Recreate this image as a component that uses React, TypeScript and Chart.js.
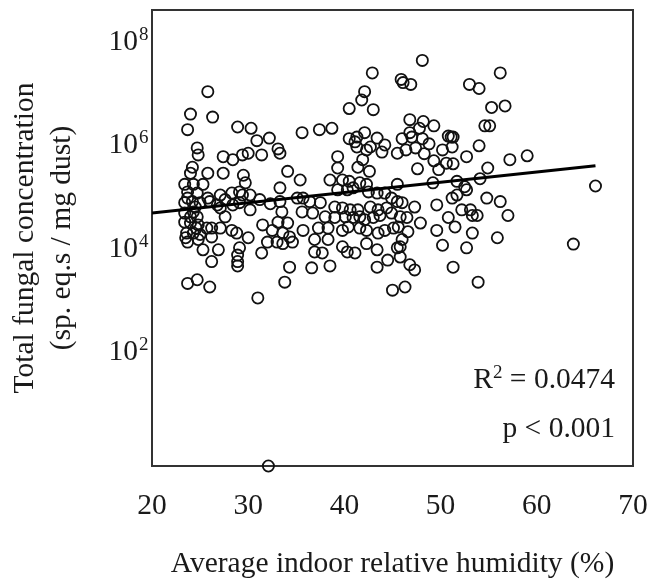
import React, { useEffect, useRef } from 'react';
import { Chart, registerables } from 'chart.js';

Chart.register(...registerables);

// Average indoor relative humidity (%) for each dwelling
const humidity: number[] = [
  48.1, 42.9, 56.2, 45.9, 46.1, 46.9, 53.0, 54.0, 25.8, 24.0,
  26.3, 23.7, 28.9, 30.3, 30.9, 32.2, 24.7, 24.8, 27.4, 28.4,
  29.4, 30.0, 31.4, 24.2, 24.0, 25.8, 27.4, 29.5, 42.1, 41.8,
  40.5, 43.0, 35.6, 37.4, 38.7, 40.5, 41.3, 41.1, 42.1, 43.4,
  44.2, 33.1, 33.3, 41.3, 42.3, 42.7, 43.9, 39.3, 41.9, 41.4,
  39.3, 34.1, 42.6, 55.3, 56.7, 54.6, 55.1, 46.8, 48.2, 49.3,
  46.8, 47.8, 46.0, 47.0, 48.1, 48.8, 50.8, 51.1, 51.3, 45.5,
  46.4, 47.4, 48.3, 50.2, 51.2, 54.0, 52.7, 49.3, 50.6, 51.3,
  47.6, 49.8, 54.9, 57.2, 59.0, 51.7, 54.1, 52.5, 49.2, 45.5,
  35.4, 38.5, 39.8, 40.5, 41.6, 42.3, 33.3, 39.3, 40.3, 40.9,
  42.5, 43.4, 44.2, 35.1, 35.7, 36.4, 37.5, 33.3, 32.3, 39.0,
  39.8, 40.6, 41.4, 42.7, 43.5, 44.4, 33.5, 35.6, 36.7, 38.0,
  39.0, 40.1, 40.9, 41.6, 42.1, 43.0, 43.7, 33.1, 34.1, 37.3,
  38.3, 39.8, 40.4, 41.6, 42.3, 43.5, 44.2, 35.7, 33.6, 34.3,
  32.5, 36.9, 38.3, 33.0, 33.6, 34.6, 39.8, 41.1, 40.3, 42.3,
  43.4, 44.5, 36.9, 37.7, 34.3, 36.6, 38.5, 43.4, 33.8, 45.0,
  44.9, 45.5, 46.0, 47.3, 49.6, 51.2, 51.7, 52.7, 54.8, 56.2,
  44.9, 45.8, 46.5, 47.9, 50.8, 51.5, 52.2, 53.1, 53.3, 53.8,
  57.0, 45.1, 45.6, 46.6, 49.6, 53.3, 55.9, 46.0, 45.8, 45.5,
  50.2, 52.7, 45.8, 46.8, 47.3, 51.3, 53.9, 46.3, 66.1, 63.8,
  23.4, 24.3, 25.3, 23.7, 24.7, 23.4, 24.2, 25.0, 25.8, 26.0,
  27.1, 27.6, 28.3, 29.1, 29.7, 29.4, 30.2, 31.2, 23.4, 24.3,
  24.7, 27.1, 26.8, 29.1, 28.4, 30.2, 27.6, 23.4, 24.0, 24.8,
  25.7, 26.2, 27.1, 28.3, 28.8, 30.0, 31.5, 32.0, 23.6, 24.3,
  25.0, 23.7, 24.8, 26.2, 25.3, 26.9, 29.1, 28.9, 31.4, 26.2,
  28.9, 28.9, 23.7, 24.7, 26.0, 31.0, 32.1, 23.7, 24.5, 24.0,
  24.6, 23.5,
];

// Total fungal concentration (sp. eq.s / mg dust), same order
const concentration: number[] = [
  3.5e7, 2.0e7, 2.0e7, 1.5e7, 1.3e7, 1.2e7, 1.2e7, 1.0e7, 8.7e6, 3.2e6,
  2.8e6, 1.6e6, 1.8e6, 1.7e6, 9.8e5, 1.1e6, 7.1e5, 5.2e5, 4.8e5, 4.2e5,
  5.2e5, 5.6e5, 5.2e5, 3.0e5, 2.3e5, 2.3e5, 2.3e5, 2.1e5, 8.7e6, 6.0e6,
  4.1e6, 3.9e6, 1.4e6, 1.6e6, 1.7e6, 1.07e6, 1.15e6, 9.3e5, 1.4e6, 1.1e6,
  8.1e5, 6.8e5, 5.6e5, 7.4e5, 6.5e5, 7.4e5, 5.9e5, 4.8e5, 4.2e5, 3.0e5,
  2.9e5, 2.5e5, 2.5e5, 4.3e6, 4.6e6, 1.9e6, 1.9e6, 2.5e6, 2.3e6, 1.9e6,
  1.4e6, 1.7e6, 1.07e6, 1.15e6, 1.07e6, 8.5e5, 1.2e6, 1.15e6, 1.15e6, 5.6e5,
  6.5e5, 7.1e5, 5.5e5, 6.5e5, 7.4e5, 7.8e5, 4.8e5, 4.0e5, 3.6e5, 3.5e5,
  2.8e5, 2.7e5, 2.9e5, 4.2e5, 5.0e5, 1.6e5, 1.8e5, 1.26e5, 1.5e5, 1.4e5,
  1.7e5, 1.7e5, 1.7e5, 1.6e5, 1.5e5, 1.4e5, 1.2e5, 1.1e5, 1.1e5, 1.2e5,
  1.0e5, 9.5e4, 9.5e4, 7.6e4, 7.6e4, 6.5e4, 6.2e4, 6.5e4, 5.9e4, 5.1e4,
  4.9e4, 4.5e4, 4.5e4, 5.1e4, 4.5e4, 4.9e4, 4.1e4, 4.1e4, 3.9e4, 3.3e4,
  3.2e4, 3.3e4, 3.2e4, 3.3e4, 2.9e4, 3.2e4, 3.5e4, 2.6e4, 2.5e4, 2.0e4,
  2.0e4, 1.8e4, 2.1e4, 2.0e4, 1.8e4, 1.6e4, 1.8e4, 1.8e4, 1.6e4, 1.35e4,
  1.8e4, 1.2e4, 1.2e4, 1.07e4, 1.0e4, 1.07e4, 8.7e3, 6.6e3, 6.9e3, 1.0e4,
  7.6e3, 4.8e3, 6.9e3, 6.6e3, 3.5e3, 3.4e3, 3.7e3, 3.5e3, 1.8e3, 1.26e3,
  7.6e4, 6.5e4, 6.2e4, 5.1e4, 5.6e4, 7.6e4, 8.7e4, 1.1e5, 7.6e4, 6.5e4,
  3.9e4, 3.3e4, 3.2e4, 2.5e4, 3.2e4, 2.1e4, 4.5e4, 4.5e4, 3.5e4, 3.5e4,
  3.5e4, 2.0e4, 2.1e4, 1.7e4, 1.8e4, 1.6e4, 1.3e4, 1.2e4, 8.7e3, 8.3e3,
  9.3e3, 8.3e3, 5.5e3, 3.9e3, 3.1e3, 3.5e3, 1.8e3, 1.45e3, 1.3e5, 9.8e3,
  1.4e5, 1.4e5, 1.4e5, 1.0e5, 9.5e4, 6.2e4, 6.5e4, 6.2e4, 7.6e4, 6.5e4,
  8.7e4, 7.1e4, 9.5e4, 1.0e5, 1.5e5, 8.7e4, 8.7e4, 7.1e4, 3.9e4, 4.1e4,
  3.3e4, 4.9e4, 5.6e4, 6.2e4, 5.6e4, 4.5e4, 3.3e4, 2.6e4, 2.5e4, 2.3e4,
  2.0e4, 2.0e4, 2.0e4, 1.8e4, 1.6e4, 1.3e4, 2.3e4, 1.07e4, 1.6e4, 1.6e4,
  1.5e4, 1.07e4, 1.2e4, 1.35e4, 7.6e3, 7.6e3, 8.3e3, 6.0e3, 6.6e3, 4.5e3,
  4.5e3, 3.7e3, 1.7e3, 2.0e3, 1.45e3, 8.9e2, 0.5, 7.6e4, 5.1e4, 3.3e4,
  2.0e4, 1.3e4,
];

// Regression line end points
const fitHumidity: number[] = [20, 66.1];
const fitConcentration: number[] = [3.9e4, 3.2e5];

// Axis ticks
const xTickValues: number[] = [20, 30, 40, 50, 60, 70];
const yTickExponents: number[] = [2, 4, 6, 8];

const statR2 = '0.0474';
const statP = 'p < 0.001';

const FONT = '"Liberation Serif", "Times New Roman", Times, serif';
const TEXT = '#1a1a1a';
const FS = 29.5;

export default function App() {
  const ref = useRef<HTMLCanvasElement>(null);

  useEffect(() => {
    document.body.style.margin = '0';
    const canvas = ref.current;
    if (!canvas) return;

    const points = humidity.map((x, i) => ({ x, y: concentration[i] }));
    const fit = fitHumidity.map((x, i) => ({ x, y: fitConcentration[i] }));

    const decor = {
      id: 'decor',
      beforeDatasetsDraw(chart: any) {
        const { ctx, chartArea: a } = chart;
        ctx.save();
        ctx.strokeStyle = '#333';
        ctx.lineWidth = 2;
        ctx.strokeRect(a.left, a.top, a.right - a.left, a.bottom - a.top);
        ctx.restore();
      },
      afterDraw(chart: any) {
        const { ctx, chartArea: a } = chart;
        const ys = chart.scales.y;
        ctx.save();
        ctx.fillStyle = TEXT;
        ctx.textBaseline = 'alphabetic';
        ys.ticks.forEach((t: any, i: number) => {
          const py = ys.getPixelForValue(t.value);
          ctx.font = `${FS}px ${FONT}`;
          ctx.textAlign = 'right';
          ctx.fillText('10', a.left - 14, py + 13);
          ctx.font = `19px ${FONT}`;
          ctx.textAlign = 'left';
          ctx.fillText(String(yTickExponents[i]), a.left - 13, py + 3);
        });

        // statistics text
        const rx = a.right - 18;
        const b1 = a.bottom - 78;
        const b2 = a.bottom - 29;
        ctx.font = `${FS}px ${FONT}`;
        const wR = ctx.measureText('R').width;
        const wRest = ctx.measureText(' = ' + statR2).width;
        ctx.font = `19px ${FONT}`;
        const wSup = ctx.measureText('2').width;
        const x0 = rx - (wR + wSup + wRest);
        ctx.textAlign = 'left';
        ctx.font = `${FS}px ${FONT}`;
        ctx.fillText('R', x0, b1);
        ctx.font = `19px ${FONT}`;
        ctx.fillText('2', x0 + wR, b1 - 10);
        ctx.font = `${FS}px ${FONT}`;
        ctx.fillText(' = ' + statR2, x0 + wR + wSup, b1);
        ctx.textAlign = 'right';
        ctx.fillText(statP, rx, b2);
        ctx.restore();
      },
    };

    const chart = new Chart(canvas, {
      type: 'scatter',
      data: {
        datasets: [
          {
            type: 'line',
            data: fit,
            borderColor: '#000',
            borderWidth: 3,
            pointRadius: 0,
            fill: false,
            tension: 0,
          } as any,
          {
            type: 'scatter',
            data: points,
            pointStyle: 'circle',
            pointRadius: 5.6,
            pointBorderWidth: 1.8,
            borderColor: '#111',
            backgroundColor: 'rgba(0,0,0,0)',
            clip: false,
          } as any,
        ],
      },
      options: {
        animation: false,
        responsive: false,
        events: [],
        layout: { autoPadding: false, padding: { left: 0, top: 10, right: 21, bottom: 0 } },
        plugins: {
          legend: { display: false },
          tooltip: { enabled: false },
        },
        scales: {
          x: {
            type: 'linear',
            min: 20,
            max: 70,
            bounds: 'data',
            afterBuildTicks: (s: any) => {
              s.ticks = xTickValues.map((v) => ({ value: v }));
            },
            afterFit: (s: any) => {
              s.height = 113;
              s.paddingLeft = 0;
              s.paddingRight = 0;
            },
            grid: { display: false, drawTicks: false },
            border: { display: false },
            ticks: {
              color: TEXT,
              font: { family: FONT, size: FS },
              padding: 23,
              maxRotation: 0,
              autoSkip: false,
            },
            title: {
              display: true,
              text: 'Average indoor relative humidity (%)',
              color: TEXT,
              font: { family: FONT, size: FS, lineHeight: 1 },
              padding: { top: 0, bottom: 0 },
            },
          },
          y: {
            type: 'logarithmic',
            min: 0.5,
            max: 3.3e8,
            bounds: 'data',
            afterBuildTicks: (s: any) => {
              s.ticks = yTickExponents.map((e) => ({ value: Math.pow(10, e) }));
            },
            afterFit: (s: any) => {
              s.width = 152;
              s.paddingTop = 0;
              s.paddingBottom = 0;
            },
            grid: { display: false, drawTicks: false },
            border: { display: false },
            ticks: { display: false },
            title: {
              display: true,
              text: ['Total fungal concentration', '(sp. eq.s / mg dust)'],
              color: TEXT,
              font: { family: FONT, size: FS, lineHeight: 1.25 },
              padding: { top: 6.5, bottom: 0 },
            },
          },
        },
      },
      plugins: [decor],
    } as any);

    return () => chart.destroy();
  }, []);

  return (
    <div style={{ width: 654, height: 579, position: 'relative', background: '#fff' }}>
      <canvas ref={ref} width={654} height={579} />
    </div>
  );
}
